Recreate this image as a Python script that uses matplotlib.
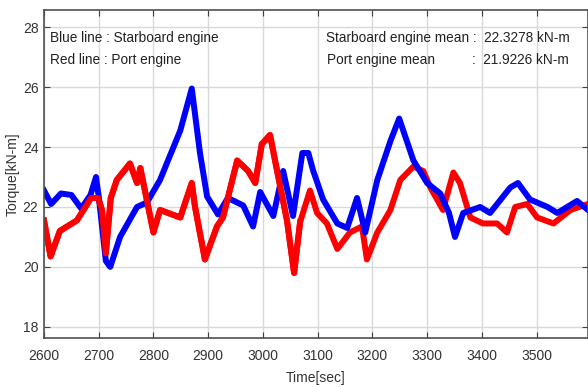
import numpy as np
import matplotlib
matplotlib.use("Agg")
import matplotlib.pyplot as plt

plt.rcParams['font.family'] = ['Liberation Sans', 'DejaVu Sans']

# values
t_blue = [2600, 2613, 2631, 2650, 2668, 2685, 2695, 2700, 2713, 2721, 2739, 2770, 2788,
          2812, 2849, 2870, 2885, 2898, 2918, 2936, 2964, 2982, 2995, 3019, 3037, 3055,
          3072, 3083, 3092, 3110, 3136, 3154, 3172, 3187, 3209, 3233, 3249, 3275, 3300,
          3324, 3340, 3351, 3366, 3397, 3415, 3452, 3466, 3488, 3520, 3538, 3574, 3594]
tq_blue = [22.55, 22.1, 22.45, 22.4, 21.95, 22.4, 23.0, 22.35, 20.2, 20.0, 21.0, 22.0, 22.15,
           22.9, 24.55, 25.95, 23.8, 22.35, 21.75, 22.3, 22.05, 21.35, 22.5, 21.7, 23.2, 21.7,
           23.8, 23.8, 23.2, 22.25, 21.45, 21.3, 22.3, 21.15, 22.9, 24.2, 24.95, 23.55, 22.8,
           22.45, 21.8, 21.0, 21.8, 22.0, 21.8, 22.65, 22.8, 22.25, 22.0, 21.8, 22.2, 21.9]

t_red = [2600, 2612, 2629, 2660, 2686, 2699, 2706, 2713, 2722, 2733, 2757, 2770, 2776,
         2800, 2812, 2849, 2870, 2876, 2894, 2916, 2927, 2953, 2973, 2986, 2998, 3013,
         3026, 3044, 3057, 3068, 3086, 3099, 3117, 3136, 3159, 3181, 3190, 3209, 3233,
         3251, 3275, 3293, 3306, 3329, 3348, 3360, 3379, 3402, 3428, 3446, 3461, 3483,
         3501, 3531, 3562, 3594]
tq_red = [21.55, 20.35, 21.2, 21.55, 22.3, 22.3, 21.9, 20.45, 22.3, 22.9, 23.45, 22.8, 23.3,
          21.15, 21.9, 21.65, 22.8, 22.0, 20.25, 21.35, 21.65, 23.55, 23.2, 22.8, 24.1, 24.4,
          23.2, 21.55, 19.8, 21.5, 22.55, 21.8, 21.45, 20.6, 21.15, 21.35, 20.25, 21.15, 21.9,
          22.9, 23.35, 23.2, 22.65, 21.9, 23.15, 22.8, 21.65, 21.45, 21.45, 21.15, 22.0, 22.1,
          21.65, 21.45, 21.9, 22.1]

fig = plt.figure(figsize=(5.88, 3.87), dpi=100)
ax = fig.add_axes([44 / 588, 1 - 338 / 387, 1 - 44 / 588, 328 / 387])

# red first half drawn under blue, second half over blue as in the picture
ax.plot(t_red, tq_red, color='#ff0000', lw=4.3)
ax.plot(t_blue, tq_blue, color='#0000ff', lw=4.3)
ax.plot(t_red[:30], tq_red[:30], color='#ff0000', lw=4.3)

ax.set_xlim(2600, 3594)
ax.set_ylim(17.63, 28.57)
ax.set_xticks(np.arange(2600, 3600, 100))
ax.set_yticks([18, 20, 22, 24, 26, 28])
ax.grid(True, color='#d9d9d9', lw=1.0)
ax.set_axisbelow(True)
ax.tick_params(direction='in', length=4, top=True, right=True, labelsize=10,
               colors='#404040', labelcolor='#333333')
ax.tick_params(axis='x', pad=8)
ax.tick_params(axis='y', pad=4)
for s in ax.spines.values():
    s.set_color('#505050')
    s.set_linewidth(1.2)

ax.set_xlabel('Time[sec]', fontsize=10, color='#333333', labelpad=6)
ax.set_ylabel('Torque[kN-m]', fontsize=10, color='#333333', labelpad=2)

fs = 9.8
ax.text(0.011, 0.915, 'Blue line : Starboard engine', transform=ax.transAxes,
        fontsize=fs, color='#222222', va='center')
ax.text(0.011, 0.848, 'Red line : Port engine', transform=ax.transAxes,
        fontsize=fs, color='#222222', va='center')
ax.text(0.519, 0.915, 'Starboard engine mean :  22.3278 kN-m', transform=ax.transAxes,
        fontsize=fs, color='#222222', va='center')
ax.text(0.521, 0.848, 'Port engine mean', transform=ax.transAxes,
        fontsize=fs, color='#222222', va='center')
ax.text(0.787, 0.848, ':  21.9226 kN-m', transform=ax.transAxes,
        fontsize=fs, color='#222222', va='center')

fig.savefig('out.png', dpi=100)
